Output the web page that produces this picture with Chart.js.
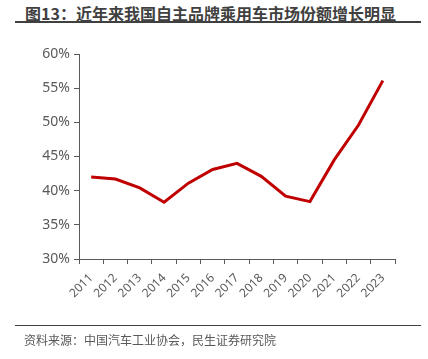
<!DOCTYPE html>
<html><head><meta charset="utf-8">
<script src="https://cdn.jsdelivr.net/npm/chart.js@4.4.1/dist/chart.umd.min.js"></script>
<style>
html,body{margin:0;padding:0;background:#fff;}
#wrap{position:relative;width:428px;height:359px;overflow:hidden;font-family:"Noto Sans CJK SC","Noto Sans",sans-serif;}
#title{position:absolute;left:25px;top:2px;font-size:16px;font-weight:bold;color:#404040;white-space:nowrap;line-height:22px;}
#tline{position:absolute;left:15px;top:21px;width:406px;height:2px;background:#404040;}
#fline{position:absolute;left:15px;top:325px;width:406px;height:1px;background:#404040;}
#src{position:absolute;left:24px;top:331px;font-size:12px;color:#595959;white-space:nowrap;line-height:18px;}
canvas{position:absolute;left:0;top:0;}
</style></head>
<body><div id="wrap">
<div id="title">图13：近年来我国自主品牌乘用车市场份额增长明显</div>
<div id="tline"></div>
<canvas id="c" width="428" height="359"></canvas>
<div id="fline"></div>
<div id="src">资料来源：中国汽车工业协会，民生证券研究院</div>
</div>
<script>
const years = ["2011","2012","2013","2014","2015","2016","2017","2018","2019","2020","2021","2022","2023"];
const share = [42.0,41.7,40.4,38.3,41.1,43.1,44.0,42.1,39.2,38.4,44.5,49.6,56.1];
const yTicks = [30,35,40,45,50,55,60];

const padTop = 54, padLeft = 0, padRight = 33, padBottom = 0;
new Chart(document.getElementById('c'), {
  type: 'line',
  data: { labels: years, datasets: [{ data: share, borderColor: '#C00000', borderWidth: 3, pointRadius: 0, tension: 0, fill: false }] },
  options: {
    responsive: false, animation: false,
    layout: { padding: { top: padTop, left: padLeft, right: padRight, bottom: padBottom } },
    plugins: { legend: { display: false }, tooltip: { enabled: false } },
    scales: {
      x: {
        offset: true,
        grid: { display: true, offset: true, drawOnChartArea: false, drawTicks: true, tickLength: 5, color: '#595959' },
        border: { display: true, color: '#595959', width: 1 },
        ticks: { color: '#595959', font: { family: 'Noto Sans', size: 12 }, maxRotation: 45, minRotation: 45, autoSkip: false, padding: 7 },
        afterFit: s => { s.height = 359 - 259 - padBottom; }
      },
      y: {
        min: 30, max: 60,
        afterBuildTicks: s => { s.ticks = yTicks.map(v => ({ value: v })); },
        grid: { display: true, drawOnChartArea: false, drawTicks: true, tickLength: 5, color: '#595959' },
        border: { display: true, color: '#595959', width: 1 },
        ticks: { color: '#595959', font: { family: 'Noto Sans', size: 14 }, padding: 4, callback: v => v + '%' },
        afterFit: s => { s.width = 79 - padLeft; }
      }
    }
  }
});
</script>
</body></html>
